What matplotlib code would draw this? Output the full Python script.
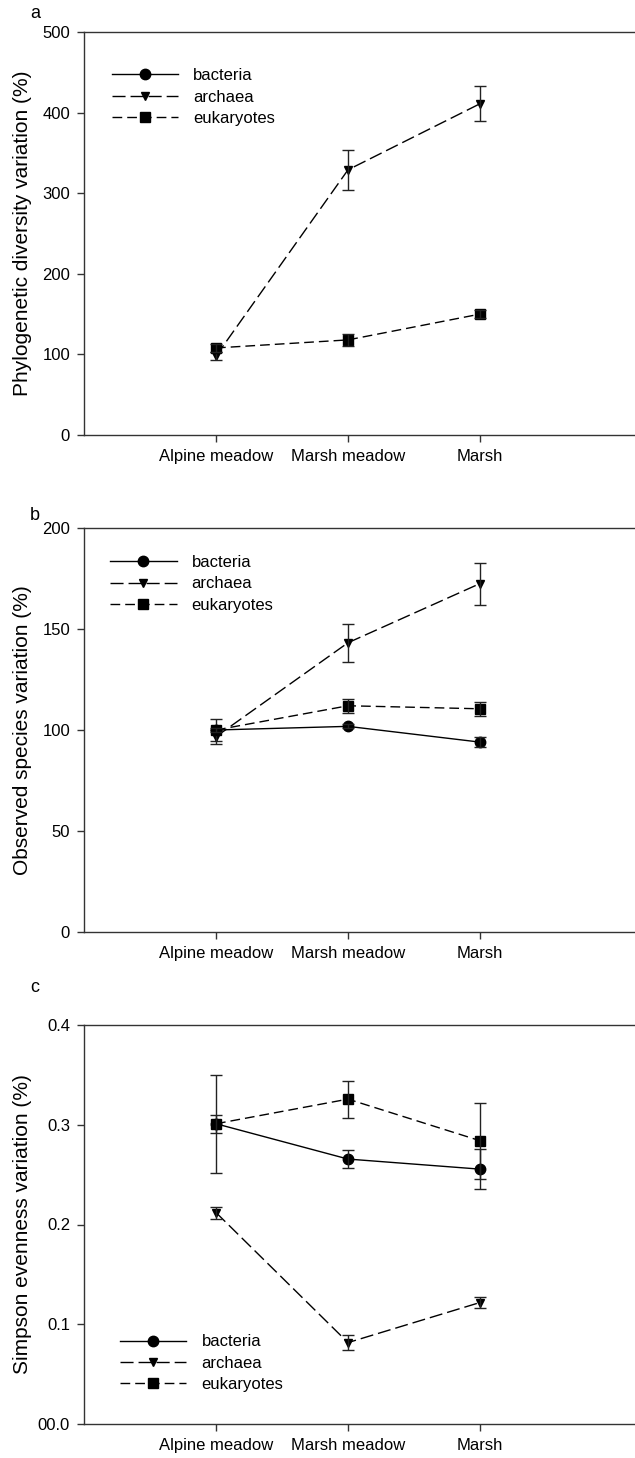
import numpy as np
import matplotlib
matplotlib.use("Agg")
import matplotlib.pyplot as plt

plt.rcParams["font.family"] = ["Liberation Sans", "DejaVu Sans"]

HABITATS = ["Alpine meadow", "Marsh meadow", "Marsh"]
GROUPS = ["bacteria", "archaea", "eukaryotes"]

# panel a: phylogenetic diversity variation (%)  (bacteria not shown in original)
pd_bacteria = [np.nan, np.nan, np.nan]
pd_bacteria_err = [0, 0, 0]
pd_archaea = [98, 329, 411]
pd_archaea_err = [5, 25, 22]
pd_eukaryotes = [108, 118, 150]
pd_eukaryotes_err = [5, 7, 5]

# panel b: observed species variation (%)
os_bacteria = [100, 101.8, 94]
os_bacteria_err = [5.5, 1, 2.6]
os_archaea = [96.7, 143.2, 172.5]
os_archaea_err = [3.5, 9.4, 10.4]
os_eukaryotes = [100, 112, 110.5]
os_eukaryotes_err = [1, 3.4, 3.4]

# panel c: Simpson evenness variation (%)
se_bacteria = [0.301, 0.2656, 0.2555]
se_bacteria_err = [0.0089, 0.0094, 0.020]
se_archaea = [0.212, 0.0816, 0.1218]
se_archaea_err = [0.006, 0.0075, 0.006]
se_eukaryotes = [0.301, 0.3257, 0.284]
se_eukaryotes_err = [0.049, 0.0186, 0.038]

STYLE = {
    "bacteria": dict(marker="o", ms=7.5, ls="-"),
    "archaea": dict(marker="v", ms=6, dashes=(9.4, 3.6)),
    "eukaryotes": dict(marker="s", ms=7, dashes=(7, 3.6)),
}

W, H = 635, 1458
fig = plt.figure(figsize=(W / 100, H / 100), dpi=100)


def panel(rect, series, ylim, yticks, yticklabels, ylabel, leg_anchor):
    ax = fig.add_axes(rect)
    x = np.arange(1, len(HABITATS) + 1)
    for name, (vals, errs) in zip(GROUPS, series):
        st = STYLE[name]
        kw = dict(color="black", lw=1.0, marker=st["marker"], ms=st["ms"],
                  mfc="black", mec="black", label=name)
        if "dashes" in st:
            kw["dashes"] = st["dashes"]
        else:
            kw["ls"] = st["ls"]
        ax.plot(x, vals, **kw)
        ax.errorbar(x, vals, yerr=errs, fmt="none", ecolor="#222222",
                    elinewidth=1.0, capsize=4, capthick=1.0)
    ax.set_xlim(0, (W - 84) / 132)
    ax.set_ylim(*ylim)
    ax.set_xticks(x)
    ax.set_xticklabels(HABITATS, fontsize=12)
    ax.set_yticks(yticks)
    ax.set_yticklabels(yticklabels, fontsize=12)
    ax.tick_params(direction="out", length=5, width=1, pad=5, color="#333333")
    for s in ax.spines.values():
        s.set_linewidth(1.0)
        s.set_color("#333333")
    ax.spines["right"].set_visible(False)
    ax.set_ylabel(ylabel, fontsize=15)
    ax.yaxis.set_label_coords(-(84 - 23) / (W - 84), 0.5)
    ax.yaxis.label.set_va("center")
    ax.legend(loc=leg_anchor[0], bbox_to_anchor=leg_anchor[1],
              frameon=False, fontsize=12, handlelength=4.0,
              handletextpad=0.9, labelspacing=0.38, borderpad=0,
              borderaxespad=0)
    return ax


ax_a = panel([84 / W, 1 - 435 / H, 1 - 84 / W, 403 / H],
             [(pd_bacteria, pd_bacteria_err), (pd_archaea, pd_archaea_err),
              (pd_eukaryotes, pd_eukaryotes_err)],
             (0, 500), [0, 100, 200, 300, 400, 500],
             ["0", "100", "200", "300", "400", "500"],
             "Phylogenetic diversity variation (%)",
             ("upper left", (0.05, 0.91)))
ax_b = panel([84 / W, 1 - 932 / H, 1 - 84 / W, 404 / H],
             [(os_bacteria, os_bacteria_err), (os_archaea, os_archaea_err),
              (os_eukaryotes, os_eukaryotes_err)],
             (0, 200), [0, 50, 100, 150, 200],
             ["0", "50", "100", "150", "200"],
             "Observed species variation (%)",
             ("upper left", (0.047, 0.933)))
ax_c = panel([84 / W, 1 - 1424 / H, 1 - 84 / W, 399 / H],
             [(se_bacteria, se_bacteria_err), (se_archaea, se_archaea_err),
              (se_eukaryotes, se_eukaryotes_err)],
             (0, 0.4), [0, 0.1, 0.2, 0.3, 0.4],
             ["00.0", "0.1", "0.2", "0.3", "0.4"],
             "Simpson evenness variation (%)",
             ("lower left", (0.065, 0.08)))

for letter, y in (("a", 14), ("b", 516), ("c", 988)):
    fig.text(35 / W, 1 - y / H, letter, fontsize=13, ha="center", va="center")

fig.savefig("out.png", dpi=100)
